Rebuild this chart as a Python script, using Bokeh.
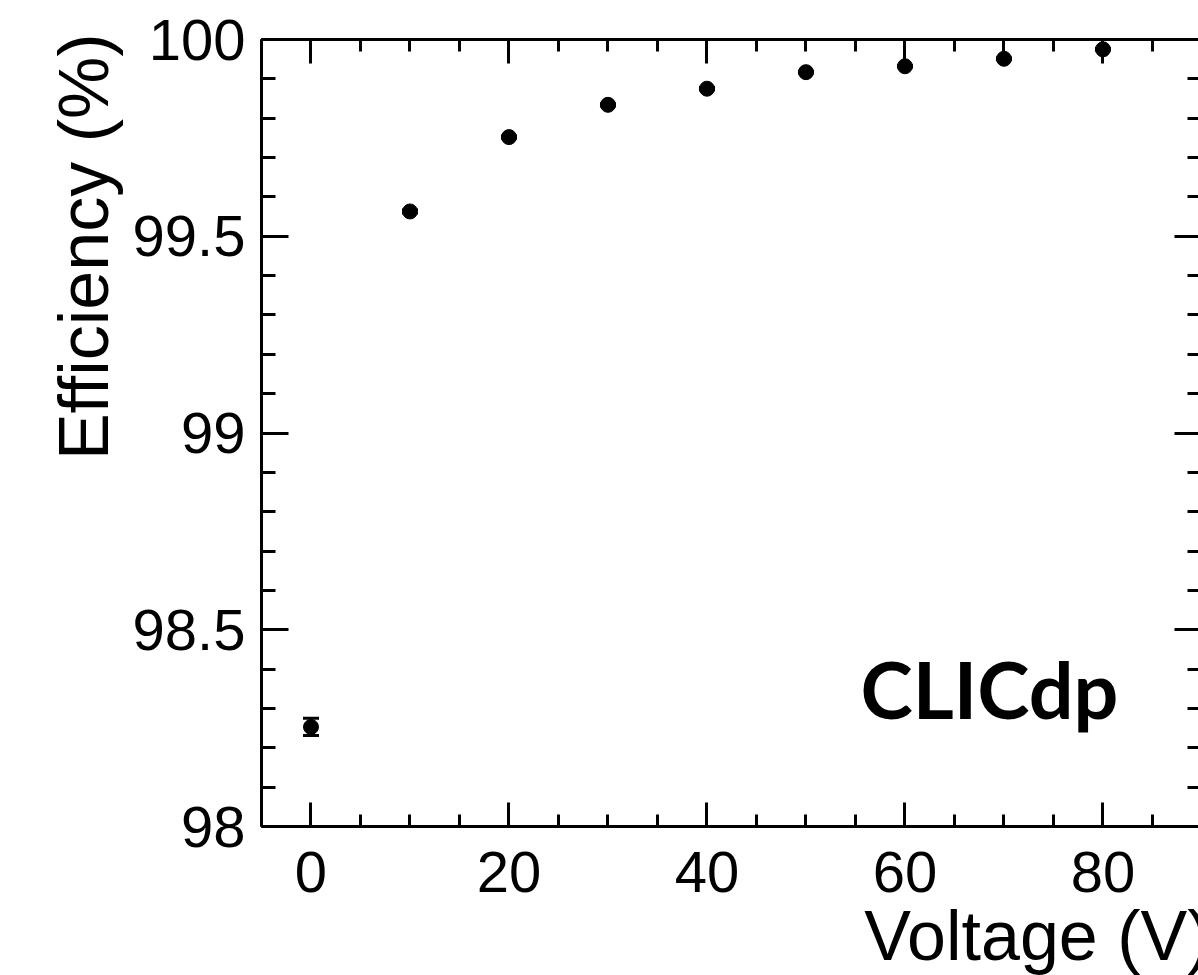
from bokeh.plotting import figure
from bokeh.models import (ColumnDataSource, SingleIntervalTicker, LinearAxis,
                          Whisker, TeeHead, Label, Range1d, Title)
from bokeh.embed import file_html
from bokeh.resources import INLINE

# ---- data ----
voltage = [0, 10, 20, 30, 40, 50, 60, 70, 80]
efficiency = [98.253, 99.563, 99.752, 99.834, 99.875, 99.917, 99.932, 99.951, 99.975]
eff_err = [0.022, 0.004, 0.003, 0.003, 0.003, 0.002, 0.002, 0.002, 0.002]

y_ticks = [98, 98.5, 99, 99.5, 100]
y_tick_labels = ["98", "98.5", "99", "99.5", "100"]
x_title = "Voltage (V)"
y_title = "Efficiency (%)"
logo_text = "CLICdp"

FONT = "Liberation Sans"

src = ColumnDataSource(dict(
    x=voltage, y=efficiency,
    lo=[e - d for e, d in zip(efficiency, eff_err)],
    hi=[e + d for e, d in zip(efficiency, eff_err)],
))

p = figure(width=1198, height=975, output_backend="svg", toolbar_location=None,
           x_range=Range1d(-5, 89.65), y_range=Range1d(98, 100),
           min_border_left=261, min_border_right=0, min_border_top=39,
           min_border_bottom=149)
p.outline_line_color = None
p.xgrid.visible = False
p.ygrid.visible = False
p.background_fill_color = "white"
p.border_fill_color = "white"

x_ticker = SingleIntervalTicker(interval=20, num_minor_ticks=4)
y_ticker = SingleIntervalTicker(interval=0.5, num_minor_ticks=5)


def style(ax, tick_major, tick_minor):
    ax.axis_line_width = 3
    ax.axis_line_color = "black"
    ax.major_tick_line_width = 3
    ax.minor_tick_line_width = 3
    ax.major_tick_line_color = "black"
    ax.minor_tick_line_color = "black"
    ax.major_tick_in = tick_major
    ax.major_tick_out = 0
    ax.minor_tick_in = tick_minor
    ax.minor_tick_out = 0
    ax.major_label_text_font = FONT
    ax.major_label_text_font_size = "58px"
    ax.major_label_text_color = "black"


xb = p.xaxis[0]
xb.ticker = x_ticker
style(xb, 24, 12)
xb.major_label_standoff = 25

yl = p.yaxis[0]
yl.ticker = y_ticker
style(yl, 27, 14)
yl.major_label_standoff = 16
yl.major_label_overrides = {t: s for t, s in zip(y_ticks, y_tick_labels)}

top = LinearAxis(ticker=x_ticker)
style(top, 24, 12)
top.major_label_text_font_size = "0px"
top.major_label_standoff = 0
p.add_layout(top, "above")

right = LinearAxis(ticker=y_ticker)
style(right, 24, 11)
right.axis_line_color = None
right.major_label_text_font_size = "0px"
right.major_label_standoff = 0
p.add_layout(right, "right")

# axis titles as side-panel titles, right-aligned at the axis ends
p.add_layout(Title(text=x_title, align="right", offset=-12, vertical_align="bottom",
                   standoff=0, text_font=FONT, text_font_size="70px",
                   text_font_style="normal", text_color="black"), "below")
p.add_layout(Title(text=y_title, align="right", offset=-6, vertical_align="bottom",
                   standoff=14, text_font=FONT, text_font_size="70px",
                   text_font_style="normal", text_color="black"), "left")

# error bars and points
wh = Whisker(source=src, base="x", lower="lo", upper="hi", dimension="height",
             line_width=3, line_color="black",
             upper_head=TeeHead(size=16, line_width=3, line_color="black"),
             lower_head=TeeHead(size=16, line_width=3, line_color="black"))
p.add_layout(wh)
p.scatter("x", "y", source=src, size=15, marker="circle",
          fill_color="black", line_color="black")

# logo
p.add_layout(Label(x=55.5, y=98.35, text=logo_text,
                   text_align="left", text_baseline="alphabetic",
                   text_font="Lato", text_font_style="bold",
                   text_font_size="79px", text_color="black"))

open("out.html", "w").write(file_html(p, INLINE))
